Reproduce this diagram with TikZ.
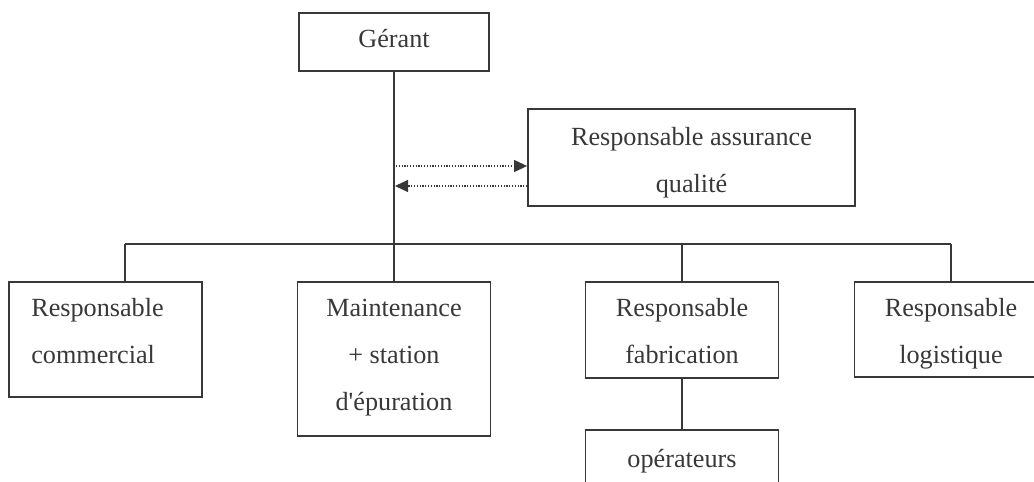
\documentclass[tikz,border=0pt]{standalone}
\usepackage{fontspec}
\setmainfont{Liberation Serif}
\usetikzlibrary{arrows.meta}
\definecolor{ink}{HTML}{383838}
\begin{document}
\begin{tikzpicture}[x=1pt,y=-1pt,
  box/.style={draw=ink,line width=1.8pt,rectangle,inner sep=0pt},
  txt/.style={text=ink,font=\fontsize{26.2}{46.8}\selectfont,align=center,inner sep=0pt},
  wire/.style={draw=ink,line width=1.8pt},
  dotarrow/.style={draw=ink,line width=1.1pt,dash pattern=on 1.2pt off 1.6pt,
    -{Triangle[length=13pt,width=12pt]}}]
\useasboundingbox (0,0) rectangle (1034,482);
\begin{scope}
\clip (0,0) rectangle (1034,482);
\node[box,minimum width=190pt,minimum height=58pt,
  label={[txt,yshift=3pt]center:G\'erant}] (ger) at (394,42) {};
\node[box,minimum width=327pt,minimum height=97pt,
  label={[txt,yshift=-5pt]center:Responsable assurance\\qualit\'e}] (qa) at (691.5,157.5) {};
\node[box,minimum width=193pt,minimum height=115pt,
  label={[txt,align=left,xshift=-8pt,yshift=8.5pt]center:Responsable\\commercial}] (com) at (105.5,339.5) {};
\node[box,minimum width=193pt,minimum height=154pt,
  label={[txt,yshift=1.5pt]center:Maintenance\\+ station\\d\textquotesingle\'epuration}] (mai) at (394,359) {};
\node[box,minimum width=193pt,minimum height=96pt,
  label={[txt,yshift=-1pt]center:Responsable\\fabrication}] (fab) at (682,330) {};
\node[box,minimum width=193pt,minimum height=95pt,
  label={[txt,yshift=-4.5pt]center:Responsable\\logistique}] (log) at (951,329.5) {};
\node[box,minimum width=193pt,minimum height=62pt,
  label={[txt]center:op\'erateurs}] (ope) at (682,461) {};
% trunk
\draw[wire] (ger.south) -- (mai.north);
% bus
\coordinate (busL) at (125,244);
\coordinate (busR) at (951,244);
\draw[wire] (busL) -- (busR);
\draw[wire] (busL) -- (busL |- com.north);
\draw[wire] (fab.north |- busL) -- (fab.north);
\draw[wire] (busR) -- (log.north);
\draw[wire] (fab.south) -- (ope.north);
% quality arrows
\coordinate (a1) at (396,166);
\coordinate (a2) at (395,186);
\draw[dotarrow] (a1) -- (a1 -| qa.west);
\draw[dotarrow] (a2 -| qa.west) -- (a2);
\end{scope}
\end{tikzpicture}
\end{document}
